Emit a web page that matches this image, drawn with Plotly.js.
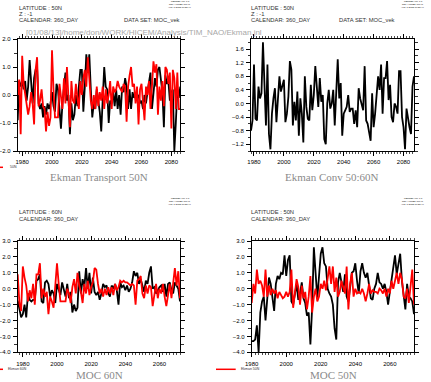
<!DOCTYPE html>
<html><head><meta charset="utf-8">
<script src="https://cdn.plot.ly/plotly-3.0.1.min.js"></script>
<style>html,body{margin:0;padding:0;background:#fff}#c{width:431px;height:382px}</style>
</head><body><div id="c"></div>
<script>
// ---- data ----
const startP1 = 1977;
const ekmanTransportBlack = [-0.9,0.5,0.3,0.5,0.2,0.5,-0.2,0.3,1.25,0.4,-0.3,0.6,0.9,0.95,-0.3,-0.5,-0.3,-0.8,-0.4,-0.7,-0.3,-0.5,-0.3,0.1,-0.4,-0.6,0.4,0.2,-0.6,-1.2,-0.3,0.4,0.8,-0.2,0.0,-1.4,-0.3,-0.9,-0.7,0.0,-0.4,0.3,0.9,0.9,-0.6,0.3,1.45,0.8,1.45,0.2,-0.8,-0.3,-0.5,0.2,-0.2,-0.6,-1.3,0.1,1.0,0.3,0.2,-1.0,-0.2,-0.3,0.1,-0.4,0.2,-0.5,0.0,-0.7,0.3,0.1,0.6,0.3,-0.5,0.2,-0.5,0.1,-0.1,0.0,-0.1,0.0,-0.3,-0.2,-0.5,0.0,-0.3,0.1,0.5,0.8,-0.5,0.2,0.6,0.3,0.9,1.0,0.5,0.1,-1.15,0.7,0.4,0.5,-0.2,0.1,0.2,-2.0,-1.0,0.2,-0.1,0.3];
const ekmanTransportRed = [0.0,0.55,-1.4,1.4,0.4,0.0,-0.2,-0.7,-0.4,0.1,-0.3,-1.05,0.9,1.35,-0.4,-0.2,0.2,-0.4,-0.5,-1.3,-0.6,-1.1,-0.8,1.6,0.2,-0.8,-0.8,-0.8,0.4,-0.2,-0.5,0.6,-0.3,1.0,-0.1,-1.15,0.5,-0.2,-0.3,0.4,-0.1,-0.5,0.5,0.0,0.6,0.9,0.3,1.35,0.6,-0.2,-0.5,0.0,-0.5,0.3,-0.4,0.1,-0.2,0.3,-0.5,0.2,-0.3,0.0,0.5,-0.5,0.3,0.1,0.2,0.5,0.3,0.2,0.1,0.4,0.3,-0.95,0.3,0.7,1.0,0.3,0.4,-0.3,0.3,-1.05,0.2,0.4,-0.4,-0.9,0.3,0.0,0.5,-0.5,0.3,1.2,0.8,1.1,-0.7,0.3,-0.2,0.5,-0.4,1.0,0.9,0.4,0.8,-1.2,0.9,0.6,-0.5,0.8,-0.5,-0.5];

const startP2 = 1978;
const ekmanConv = [-0.8,-0.5,1.15,-0.45,-0.5,0.5,0.15,0.3,1.8,0.2,-0.65,1.15,-0.9,-1.35,-0.3,0.15,0.45,-0.55,0.1,0.8,0.35,0.5,0.7,-0.55,-0.3,0.2,1.25,1.0,-0.65,0.05,-0.5,0.35,-0.95,0.15,-0.3,-1.15,0.8,-0.1,-0.45,-0.5,0.55,-0.2,0.25,1.1,0.6,-0.1,0.75,0.05,0.25,-1.05,-1.2,0.0,0.4,-0.15,0.0,0.4,-0.65,0.3,1.3,0.15,0.6,-0.95,-0.3,-0.2,-0.1,0.25,-0.25,-0.15,-0.15,-0.6,-0.2,-0.7,0.45,0.15,0.0,-0.2,1.1,-0.5,-0.6,-0.8,-1.1,0.3,-0.7,-0.3,0.15,0.8,0.4,1.15,-0.3,0.75,0.75,1.25,0.1,0.55,-0.4,-0.55,0.0,-0.1,-0.3,0.95,0.95,-0.4,-0.7,-1.35,-0.15,-0.5,-0.7,-0.9,0.5,0.8];

const startP3 = 1977;
const moc60Black = [-0.75,-1.3,-1.8,-1.6,-1.0,-1.8,-0.3,-0.7,-0.8,-0.7,-0.7,0.5,0.6,0.9,-0.8,-0.9,0.4,0.5,0.3,-0.5,-0.1,-0.3,-0.9,0.3,0.0,-0.4,0.4,0.0,-0.5,0.3,-0.6,-0.2,-1.5,-1.0,-1.4,-1.2,1.1,-0.3,0.6,0.1,1.3,0.0,1.0,-0.3,0.7,-0.2,-0.4,-0.2,-0.7,-0.3,0.3,0.1,0.2,-0.3,-0.5,0.2,0.0,0.3,-0.1,-1.0,0.4,0.1,0.2,-0.1,0.2,-0.2,0.0,0.4,1.1,0.8,1.0,0.3,0.6,0.2,-0.2,0.5,0.3,1.0,1.4,0.0,0.1,-0.3,-0.1,0.1,0.2,-0.2,0.3,-0.5,0.3,0.4,-0.1,-0.3,0.4,0.2,0.0,-0.8];
const ekman60Red = [0.9,-0.9,-1.4,1.4,0.7,0.2,-0.8,-0.1,-0.6,0.3,-1.0,0.9,0.9,1.6,-0.6,0.0,-0.5,-0.2,-1.6,-0.5,-0.8,-1.2,0.2,1.6,0.3,-0.8,-0.8,-0.8,-0.8,0.0,-0.3,-0.9,0.1,0.6,-0.3,1.0,0.2,-0.2,-0.9,0.3,-0.3,0.5,-0.4,0.1,0.4,1.3,1.2,0.3,-0.3,0.0,-0.5,0.0,-0.4,0.1,-0.3,0.1,-0.4,0.3,-0.1,0.1,0.5,0.4,0.5,0.4,0.4,0.3,0.2,0.3,0.2,-1.0,0.5,0.6,0.8,-0.3,-0.6,0.2,-0.3,0.2,0.1,-1.1,-0.4,0.3,-0.6,0.0,-0.3,0.3,-0.5,-1.1,-0.4,0.3,-0.6,0.4,1.3,0.2,1.1,-0.6];

const startP4 = 1980;
const moc50Black = [-3.3,-3.3,-3.2,-2.3,-4.0,-1.5,-0.8,-0.5,-2.0,-0.5,0.7,0.3,-0.5,-1.4,0.3,0.8,0.6,1.0,0.9,2.1,0.8,1.8,2.1,-0.8,-1.0,-0.3,0.3,-0.7,-0.3,0.4,-0.6,-0.9,-1.7,-1.5,-3.5,-1.2,2.6,1.0,-0.6,0.8,2.2,2.6,1.6,1.4,0.0,-0.3,-0.5,-1.0,-2.5,-3.2,0.4,1.0,0.5,-0.2,0.9,-0.5,-0.8,0.2,1.0,1.1,1.6,0.5,-0.3,1.1,1.6,1.0,0.7,1.0,0.3,-0.6,-0.7,0.0,0.3,1.0,0.4,0.3,0.0,0.3,-0.2,-1.0,-0.2,0.6,1.5,2.1,0.9,1.5,2.2,0.5,-0.5,-1.3,0.3,-0.5,-0.6,-0.8,-1.6];
const ekman50Red = [-0.9,0.3,-0.3,1.2,0.3,0.5,0.2,-0.5,1.2,-0.5,0.2,-0.4,0.0,-0.3,-0.1,-0.6,-0.2,-0.4,-0.6,-0.5,-0.2,-0.5,-0.2,1.2,-1.2,-0.3,0.6,0.1,-1.0,0.2,-0.6,-0.2,-1.3,-0.5,0.8,-1.5,-0.5,0.0,-0.8,-0.5,0.3,0.0,0.5,-0.1,0.8,1.4,0.3,1.4,-0.2,0.7,-0.5,-0.2,0.5,0.0,-0.3,1.4,-1.3,0.3,1.0,-0.5,0.0,-0.3,-0.2,-0.3,0.0,-0.3,-0.8,-0.3,0.3,-0.3,-0.1,-0.2,-0.2,-0.3,0.0,-0.1,-0.3,0.0,-0.5,0.0,-0.3,0.5,0.0,0.5,1.0,0.3,1.0,0.6,-0.5,-0.6,0.0,-0.9,0.4,1.2,-1.0];

const yearTicks = [1980,2000,2020,2040,2060,2080];
const titles = ["Ekman Transport 50N","Ekman Conv 50:60N","MOC 60N","MOC 50N"];
const legendLabels = ["50N","Ekman 60N","Ekman 50N"];

// ---- helpers ----
const W=431,H=382;
const px = x => x/W, py = y => 1 - y/H;
const yrs = (s,n) => Array.from({length:n},(_,i)=>s+i);

const BLACK='#000000', RED='#ff0000';
const LW = 1.8;
const traces = [
  {x:yrs(startP1,ekmanTransportBlack.length), y:ekmanTransportBlack, xaxis:'x', yaxis:'y', mode:'lines', line:{color:BLACK,width:LW}},
  {x:yrs(startP1,ekmanTransportRed.length), y:ekmanTransportRed, xaxis:'x', yaxis:'y', mode:'lines', line:{color:RED,width:LW}},
  {x:yrs(startP2,ekmanConv.length), y:ekmanConv, xaxis:'x2', yaxis:'y2', mode:'lines', line:{color:BLACK,width:LW}},
  {x:yrs(startP3,moc60Black.length), y:moc60Black, xaxis:'x3', yaxis:'y3', mode:'lines', line:{color:BLACK,width:LW}},
  {x:yrs(startP3,ekman60Red.length), y:ekman60Red, xaxis:'x3', yaxis:'y3', mode:'lines', line:{color:RED,width:LW}},
  {x:yrs(startP4,moc50Black.length), y:moc50Black, xaxis:'x4', yaxis:'y4', mode:'lines', line:{color:BLACK,width:LW}},
  {x:yrs(startP4,ekman50Red.length), y:ekman50Red, xaxis:'x4', yaxis:'y4', mode:'lines', line:{color:RED,width:LW}}
];

const tickFont = {family:'Liberation Sans, Arial, sans-serif', size:6, color:'#000'};
function xax(domain, range, anchor){
  return {domain:domain, range:range, anchor:anchor, showline:true, linecolor:'#000', linewidth:1, mirror:'allticks',
    ticks:'outside', ticklen:4, tickwidth:1, tickcolor:'#000', tickvals:yearTicks, ticktext:yearTicks.map(String),
    showgrid:false, zeroline:false, tickfont:tickFont, ticklabelstandoff:1,
    minor:{tickmode:'linear', tick0:1980, dtick:2, ticks:'outside', ticklen:2, tickcolor:'#000', tickwidth:0.7, showgrid:false}};
}
function yax(domain, range, anchor, dtick, minorDtick){
  return {domain:domain, range:range, anchor:anchor, showline:true, linecolor:'#000', linewidth:1, mirror:'allticks',
    ticks:'outside', ticklen:4, tickwidth:1, tickcolor:'#000', tickmode:'linear', tick0:0, dtick:dtick, tickformat:'.1f',
    showgrid:false, zeroline:false, tickfont:tickFont, ticklabelstandoff:1,
    minor:{tickmode:'linear', tick0:0, dtick:minorDtick, ticks:'outside', ticklen:2.5, tickcolor:'#000', tickwidth:0.8, showgrid:false}};
}

const topY = [py(151), py(39)];
const botY = [py(352.3), py(241)];
const layout = {
  width:W, height:H, margin:{l:0,r:0,t:0,b:0}, paper_bgcolor:'#fff', plot_bgcolor:'#fff', showlegend:false,
  xaxis: xax([px(17.7),px(180.3)],[1977,2086],'y'),
  yaxis: yax(topY,[-2,2],'x',1,0.5),
  xaxis2: xax([px(251),px(414)],[1978,2087],'y2'),
  yaxis2: yax(topY,[-1.4,1.9],'x2',0.4,0.2),
  xaxis3: xax([px(17.7),px(180)],[1977,2072],'y3'),
  yaxis3: yax(botY,[-4,3],'x3',1,0.5),
  xaxis4: xax([px(251.7),px(414)],[1980,2074],'y4'),
  yaxis4: yax(botY,[-4,3],'x4',1,0.5),
  annotations:[], shapes:[]
};

function txt(t,x,y,size,color,anchor,family,yanchor){
  layout.annotations.push({text:t, x:px(x), y:py(y), xref:'paper', yref:'paper', showarrow:false, borderpad:0,
    xanchor:anchor||'left', yanchor:yanchor||'middle', font:{family:family||'Liberation Sans, Arial, sans-serif', size:size, color:color||'#222'}});
}
const hdr = 5.8, hc = '#333';
// headers top row
txt('LATITUDE : 50N',18,7.6,hdr,hc); txt('Z : -1',18,13.9,hdr,hc); txt('CALENDAR: 360_DAY',18,20.2,hdr,hc);
txt('DATA SET: MOC_vek',123,20.2,hdr,hc);
txt('LATITUDE : 50N',250,7.6,hdr,hc); txt('Z : -1',250,13.9,hdr,hc); txt('CALENDAR: 360_DAY',250,20.2,hdr,hc);
txt('DATA SET: MOC_vek',338,20.2,hdr,hc);
txt('LATITUDE : 60N',18,212,hdr,hc); txt('CALENDAR: 360_DAY',18,218.5,hdr,hc);
txt('LATITUDE : 50N',250,212,hdr,hc); txt('CALENDAR: 360_DAY',250,218.5,hdr,hc);
// ferret stamps
[[180,1.8],[413,1.8],[180,198.8],[413,198.8]].forEach(([x,y])=>{
  txt('FERRET Ver. 6.1',x,y,2.4,'#000','center');
  txt('NOAA/PMEL TMAP',x,y+2.9,2.4,'#000','center');
  txt('Aug  1 2013 16:26:44',x,y+5.8,2.4,'#000','center');
});
// path
txt('[01/08/13]/home/don/WORK/HICEM/Analysis/TIM_NAO/Ekman.jnl',25,33,8,'#a8a8a8');
// titles
const tf = 'Liberation Serif, serif';
txt(titles[0],98.5,177,11,'#8a8a8a','center',tf);
txt(titles[1],332,177,11,'#8a8a8a','center',tf);
txt(titles[2],99.5,382,11,'#8a8a8a','center',tf,'bottom');
txt(titles[3],333,382,11,'#8a8a8a','center',tf,'bottom');
// legends
function leg(x0,x1,y,label,tx){
  layout.shapes.push({type:'line', xref:'paper', yref:'paper', x0:px(x0), x1:px(x1), y0:py(y), y1:py(y), line:{color:RED,width:1.5}});
  txt(label,tx,y,3.5,'#333');
}
leg(0,3,167.3,legendLabels[0],9);
leg(0,3,369.3,legendLabels[1],6.7);
leg(216,235.7,369.3,legendLabels[2],240);

Plotly.newPlot('c', traces, layout, {staticPlot:true, displayModeBar:false});
</script></body></html>
